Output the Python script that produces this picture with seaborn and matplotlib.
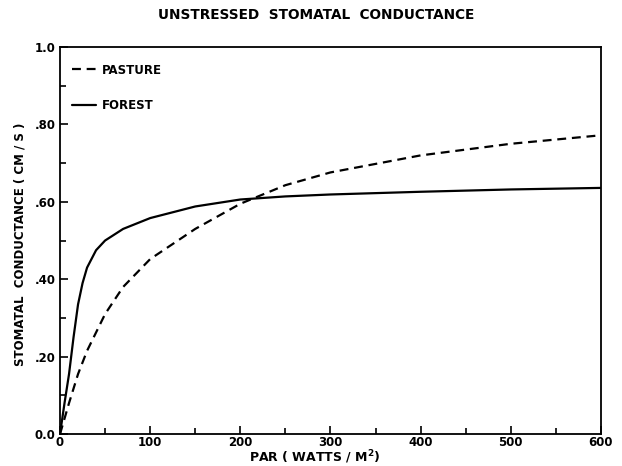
import matplotlib
matplotlib.use("Agg")
import matplotlib.pyplot as plt
import seaborn as sns
import pandas as pd
from matplotlib.ticker import MultipleLocator, FixedLocator, FixedFormatter

sns.set_style("ticks")
plt.rcParams['font.family'] = ['DejaVu Sans']
plt.rcParams['text.color'] = 'black'
plt.rcParams['axes.labelcolor'] = 'black'
plt.rcParams['xtick.color'] = 'black'
plt.rcParams['ytick.color'] = 'black'

par_pasture = [0, 5, 10, 20, 30, 50, 70, 100, 150, 200, 250, 300, 400, 500, 600]
pasture = [0, 0.04, 0.08, 0.155, 0.215, 0.31, 0.38, 0.452, 0.53, 0.595, 0.643, 0.676, 0.72, 0.75, 0.772]

par_forest = [0, 5, 10, 15, 20, 25, 30, 40, 50, 70, 100, 150, 200, 250, 300, 400, 500, 600]
forest = [0, 0.08, 0.155, 0.25, 0.335, 0.39, 0.43, 0.475, 0.50, 0.53, 0.558, 0.588, 0.606, 0.614, 0.619, 0.626, 0.632, 0.636]

x_ticks = [0, 100, 200, 300, 400, 500, 600]
y_ticks = [0.0, 0.2, 0.4, 0.6, 0.8, 1.0]
y_tick_labels = ["0.0", ".20", ".40", ".60", ".80", "1.0"]

df_p = pd.DataFrame({"par": par_pasture, "g": pasture})
df_f = pd.DataFrame({"par": par_forest, "g": forest})

fig = plt.figure(figsize=(6.22, 4.66), dpi=100)
ax = fig.add_axes([0.0965, 0.0687, 0.8695, 0.8303])

sns.lineplot(data=df_p, x="par", y="g", ax=ax, color="black", lw=1.6,
             linestyle=(0, (4, 2.6)), label="PASTURE")
sns.lineplot(data=df_f, x="par", y="g", ax=ax, color="black", lw=1.6,
             label="FOREST")

ax.set_xlim(0, 600)
ax.set_ylim(0, 1.0)
ax.xaxis.set_major_locator(FixedLocator(x_ticks))
ax.xaxis.set_minor_locator(MultipleLocator(50))
ax.yaxis.set_major_locator(FixedLocator(y_ticks))
ax.yaxis.set_major_formatter(FixedFormatter(y_tick_labels))
ax.yaxis.set_minor_locator(MultipleLocator(0.1))
ax.tick_params(which="both", direction="in", top=False, right=False, width=1.2, colors="black")
ax.tick_params(which="major", length=6, labelsize=8.5)
ax.tick_params(axis="x", which="major", pad=1.5)
ax.tick_params(axis="y", which="major", pad=3)
ax.tick_params(which="minor", length=4)
for lab in ax.get_xticklabels() + ax.get_yticklabels():
    lab.set_fontweight("bold")

for s in ax.spines.values():
    s.set_visible(True)
    s.set_color("black")
    s.set_linewidth(1.3)

ax.set_xlabel("PAR ( WATTS / M$^\\mathbf{2}$)", fontsize=9, fontweight="bold")
ax.xaxis.set_label_coords(0.47, -0.038)
ax.set_ylabel("STOMATAL  CONDUCTANCE ( CM / S )", fontsize=8.5, fontweight="bold")
ax.yaxis.set_label_coords(-0.062, 0.49)
fig.text(0.508, 0.967, "UNSTRESSED  STOMATAL  CONDUCTANCE", ha="center", va="center",
         fontsize=9.8, fontweight="bold")

leg = ax.legend(loc="upper left", bbox_to_anchor=(-0.008, 1.0), frameon=False,
                handlelength=2.0, handletextpad=0.5,
                labelspacing=1.9, borderaxespad=1.0, prop={"size": 8.5, "weight": "bold"})

fig.savefig("out.png", dpi=100)
